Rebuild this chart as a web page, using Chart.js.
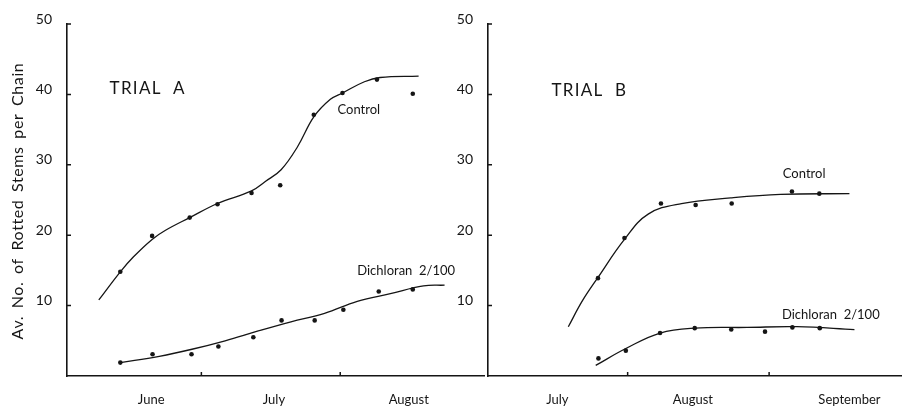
<!DOCTYPE html>
<html>
<head>
<meta charset="utf-8">
<script src="https://cdn.jsdelivr.net/npm/chart.js@4.4.1/dist/chart.umd.min.js"></script>
<style>
  html, body { margin: 0; padding: 0; background: #fff; }
  #wrap { position: relative; width: 905px; height: 406px; overflow: hidden; }
  #trialA { position: absolute; left: 0; top: 0; }
  #trialB { position: absolute; left: 440px; top: 0; }
</style>
</head>
<body>
<div id="wrap">
  <canvas id="trialA" width="488" height="406"></canvas>
  <canvas id="trialB" width="465" height="406"></canvas>
</div>
<script>
// x values are days from the first day of the panel's first month
// Trial A (starts 1 June)
var daysControlA = [11.9, 19.0, 27.4, 33.6, 41.2, 47.6, 55.1, 61.5, 69.2, 77.2];
var controlA = [14.8, 19.9, 22.5, 24.4, 26.0, 27.1, 37.1, 40.2, 42.1, 40.1];
var daysDichloranA = [11.9, 19.1, 27.8, 33.8, 41.6, 47.9, 55.3, 61.7, 69.6, 77.2];
var dichloranA = [1.9, 3.1, 3.1, 4.2, 5.5, 7.9, 7.9, 9.4, 12.0, 12.3];
// hand-drawn fitted curves
var fitDaysControlA = [7.1, 11.9, 14.8, 19.0, 22.0, 27.4, 33.6, 41.2, 44.2, 47.8, 51.5, 55.1, 58.8, 61.5, 66.4, 69.9, 78.5];
var fitControlA = [10.8, 14.8, 16.9, 19.4, 20.7, 22.5, 24.5, 26.3, 27.6, 29.3, 32.6, 36.8, 39.3, 40.2, 41.8, 42.4, 42.6];
var fitDaysDichloranA = [11.9, 20.6, 27.9, 35.3, 42.7, 50.0, 57.5, 64.8, 72.2, 79.6, 84.3];
var fitDichloranA = [1.9, 2.8, 3.8, 5.0, 6.4, 7.7, 8.9, 10.6, 11.7, 12.8, 12.9];
var monthsA = ['June', 'July', 'August'];
var monthLabelDaysA = [18.8, 46.2, 76.3];
var monthEndsA = [30, 61];

// Trial B (starts 1 July)
var daysControlB = [24.1, 29.9, 37.9, 45.5, 53.4, 66.6, 72.6];
var controlB = [13.9, 19.6, 24.5, 24.3, 24.5, 26.2, 25.9];
var daysDichloranB = [24.2, 30.2, 37.7, 45.3, 53.3, 60.7, 66.7, 72.7];
var dichloranB = [2.5, 3.6, 6.1, 6.8, 6.6, 6.3, 6.9, 6.8];
var fitDaysControlB = [17.6, 20.7, 24.1, 29.9, 35.1, 42.4, 53.2, 64.1, 79.2];
var fitControlB = [7.0, 10.7, 14.0, 19.4, 23.0, 24.5, 25.3, 25.8, 25.9];
var fitDaysDichloranB = [23.6, 30.2, 37.7, 45.3, 56.8, 67.7, 80.3];
var fitDichloranB = [1.5, 3.9, 6.1, 6.8, 6.9, 7.0, 6.6];
var monthsB = ['July', 'August', 'September'];
var monthLabelDaysB = [15.2, 44.9, 79.2];
var monthEndsB = [30.6, 61.6];

var yTickValues = [10, 20, 30, 40, 50];
var yTitle = 'Av. No. of Rotted Stems per Chain';

var INK = '#151515';
var FONT = 'Lato, "Open Sans", sans-serif';

function pairs(xs, ys) {
    var out = [];
    for (var i = 0; i < xs.length; i++) {
        out.push({x: xs[i], y: ys[i]});
    }
    return out;
}

// small inward tick marks on both axes
var tickMarks = {
    id: 'tickMarks',
    afterDraw: function (chart, args, opts) {
        var ctx = chart.ctx;
        var x = chart.scales.x, y = chart.scales.y;
        ctx.save();
        ctx.strokeStyle = INK;
        ctx.lineWidth = 1.5;
        ctx.beginPath();
        opts.yTicks.forEach(function (v) {
            var py = y.getPixelForValue(v);
            ctx.moveTo(x.left, py);
            ctx.lineTo(x.left + 4, py);
        });
        opts.xTicks.forEach(function (v) {
            var px = x.getPixelForValue(v);
            ctx.moveTo(px, y.bottom);
            ctx.lineTo(px, y.bottom - 4);
        });
        ctx.stroke();
        ctx.restore();
    }
};

// in-plot labels (trial name, curve names) and the rotated y title
var plotLabels = {
    id: 'plotLabels',
    afterDraw: function (chart, args, opts) {
        var ctx = chart.ctx;
        var x = chart.scales.x, y = chart.scales.y;
        ctx.save();
        ctx.fillStyle = INK;
        ctx.textBaseline = 'middle';
        ctx.textAlign = 'left';
        opts.items.forEach(function (it) {
            ctx.font = it.size + 'px ' + FONT;
            ctx.letterSpacing = it.spacing || '0px';
            ctx.fillText(it.text, x.getPixelForValue(it.x), y.getPixelForValue(it.y));
        });
        if (opts.title) {
            ctx.translate(18, (y.top + y.bottom) / 2 + 1);
            ctx.rotate(-Math.PI / 2);
            ctx.textAlign = 'center';
            ctx.font = '16px ' + FONT;
            ctx.letterSpacing = '0.6px';
            ctx.wordSpacing = '3px';
            ctx.fillText(opts.title, 0, 0);
        }
        ctx.restore();
    }
};

function makeChart(id, cfg) {
    var lineDs = function (data) {
        return {
            type: 'line', data: data, borderColor: INK, borderWidth: 1.3,
            pointRadius: 0, fill: false, tension: 0.4
        };
    };
    var dotDs = function (data) {
        return {
            type: 'scatter', data: data, backgroundColor: INK, borderColor: INK,
            pointRadius: 2.3, pointBorderWidth: 0
        };
    };
    return new Chart(document.getElementById(id), {
        type: 'scatter',
        data: {
            datasets: [
                lineDs(cfg.fitControl), lineDs(cfg.fitDichloran),
                dotDs(cfg.control), dotDs(cfg.dichloran)
            ]
        },
        options: {
            responsive: false,
            animation: false,
            layout: {padding: {top: 24, left: 0, right: 0, bottom: 0}},
            plugins: {
                legend: {display: false},
                tooltip: {enabled: false},
                tickMarks: {yTicks: yTickValues, xTicks: cfg.monthEnds},
                plotLabels: {items: cfg.labels, title: cfg.yTitle}
            },
            scales: {
                x: {
                    type: 'linear', min: 0, max: cfg.xMax,
                    grid: {display: false, drawTicks: false},
                    border: {display: true, color: INK, width: 1.6},
                    afterFit: function (s) { s.height = 30; },
                    afterBuildTicks: function (s) {
                        s.ticks = cfg.monthLabelDays.map(function (v) { return {value: v}; });
                    },
                    ticks: {
                        color: INK, padding: 16, maxRotation: 0, autoSkip: false,
                        font: {family: FONT, size: 13},
                        callback: function (v, i) { return cfg.months[i]; }
                    }
                },
                y: {
                    min: 0, max: 50,
                    grid: {display: false, drawTicks: false},
                    border: {display: true, color: INK, width: 1.6},
                    afterFit: function (s) { s.width = cfg.yWidth; },
                    ticks: {
                        stepSize: 10, color: INK, padding: 15, labelOffset: -5,
                        font: {family: FONT, size: 14},
                        callback: function (v) { return v === 0 ? '' : v; }
                    }
                }
            }
        },
        plugins: [tickMarks, plotLabels]
    });
}

makeChart('trialA', {
    control: pairs(daysControlA, controlA),
    dichloran: pairs(daysDichloranA, dichloranA),
    fitControl: pairs(fitDaysControlA, fitControlA),
    fitDichloran: pairs(fitDaysDichloranA, fitDichloranA),
    months: monthsA, monthLabelDays: monthLabelDaysA, monthEnds: monthEndsA,
    xMax: 93.1, yWidth: 67,
    yTitle: yTitle,
    labels: [
        {text: 'TRIAL  A', x: 9.5, y: 40.8, size: 17, spacing: '1.3px'},
        {text: 'Control', x: 60.4, y: 37.8, size: 13},
        {text: 'Dichloran  2/100', x: 64.8, y: 14.9, size: 13}
    ]
});

makeChart('trialB', {
    control: pairs(daysControlB, controlB),
    dichloran: pairs(daysDichloranB, dichloranB),
    fitControl: pairs(fitDaysControlB, fitControlB),
    fitDichloran: pairs(fitDaysDichloranB, fitDichloranB),
    months: monthsB, monthLabelDays: monthLabelDaysB, monthEnds: monthEndsB,
    xMax: 90.5, yWidth: 48,
    yTitle: '',
    labels: [
        {text: 'TRIAL  B', x: 13.9, y: 40.6, size: 17, spacing: '1.3px'},
        {text: 'Control', x: 64.6, y: 28.7, size: 13},
        {text: 'Dichloran  2/100', x: 64.4, y: 8.7, size: 13}
    ]
});
</script>
</body>
</html>
